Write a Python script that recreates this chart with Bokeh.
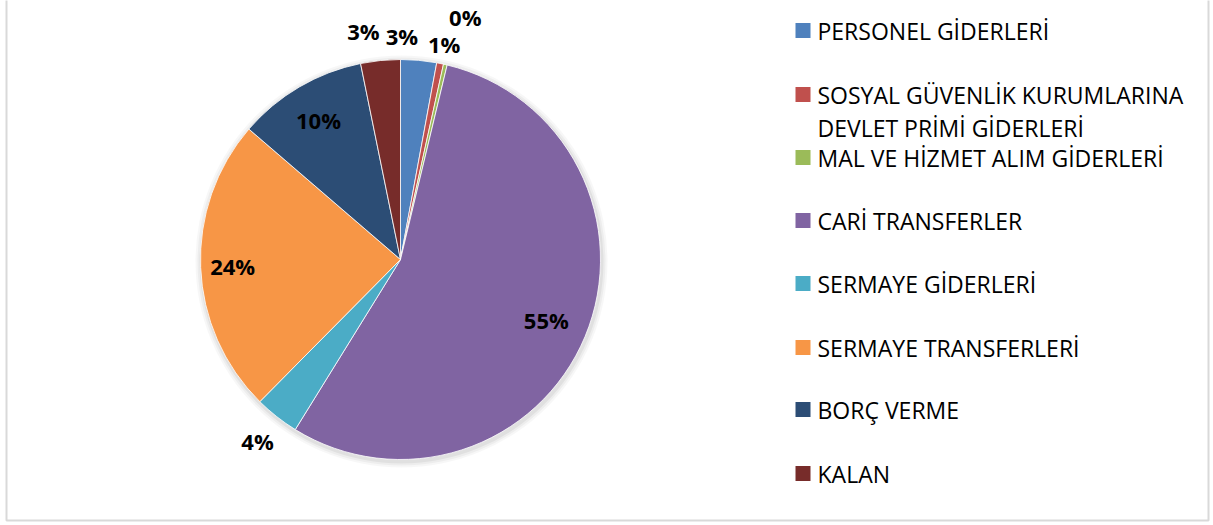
import math
from bokeh.plotting import figure
from bokeh.models import ColumnDataSource, Range1d
from bokeh.embed import file_html
from bokeh.resources import INLINE
from bokeh.core.properties import value

# ---- data ----
categories = ["PERSONEL GİDERLERİ",
              "SOSYAL GÜVENLİK KURUMLARINA DEVLET PRİMİ GİDERLERİ",
              "MAL VE HİZMET ALIM GİDERLERİ",
              "CARİ TRANSFERLER",
              "SERMAYE GİDERLERİ",
              "SERMAYE TRANSFERLERİ",
              "BORÇ VERME",
              "KALAN"]
shares = [2.9, 0.55, 0.3, 55.1, 3.6, 23.9, 10.5, 3.2]
legend_lines = [["PERSONEL GİDERLERİ"],
                ["SOSYAL GÜVENLİK KURUMLARINA", "DEVLET PRİMİ GİDERLERİ"],
                ["MAL VE HİZMET ALIM GİDERLERİ"],
                ["CARİ TRANSFERLER"],
                ["SERMAYE GİDERLERİ"],
                ["SERMAYE TRANSFERLERİ"],
                ["BORÇ VERME"],
                ["KALAN"]]

# ---- style ----
colors = ["#4F81BD", "#C0504D", "#9BBB59", "#8064A2", "#4BACC6", "#F79646", "#2C4D75", "#772C2A"]
label_radius = [1.12, 1.10, 1.245, 0.79, 1.155, 0.84, 0.81, 1.15]
label_dx = [-19, 0, 9, 0, 0, 0, 0, -14]

W, H = 1213, 525
cx, cy, R = 400, H - 259, 200

total = sum(shares)
starts, ends, mids = [], [], []
acc = 0.0
for v in shares:
    f0 = acc / total
    acc += v
    f1 = acc / total
    starts.append(math.pi / 2 - f0 * 2 * math.pi)
    ends.append(math.pi / 2 - f1 * 2 * math.pi)
    mids.append((f0 + f1) / 2 * 2 * math.pi)

p = figure(width=W, height=H, x_range=Range1d(0, W), y_range=Range1d(0, H),
           output_backend="svg", toolbar_location=None,
           x_axis_location=None, y_axis_location=None, min_border=0)
p.grid.visible = False
p.outline_line_color = None
p.background_fill_color = "white"
p.border_fill_color = "white"

# outer chart border
p.quad(left=[6], right=[1208], bottom=[5], top=[H + 20], fill_color=None,
       line_color="#d9d9d9", line_width=2)

# soft shadow
for i, a in enumerate([0.05, 0.04, 0.03]):
    p.circle(x=[cx + 1], y=[cy - 2], radius=R + 2 + 2 * i, fill_color="black",
             fill_alpha=a, line_color=None)

src = ColumnDataSource(dict(start=ends, end=starts, color=colors))
p.wedge(x=cx, y=cy, radius=R, start_angle="start", end_angle="end",
        fill_color="color", line_color="white", line_width=0.8, source=src)

# data labels
lx, ly, lt = [], [], []
for i, v in enumerate(shares):
    th = mids[i]
    rr = label_radius[i] * R
    lx.append(cx + rr * math.sin(th) + label_dx[i])
    ly.append(cy + rr * math.cos(th))
    lt.append(f"{round(v / total * 100)}%")
p.text(x=lx, y=ly, text=lt, text_font=value("Open Sans"), text_font_size="22px",
       text_font_style="bold", text_align="center", text_baseline="middle",
       text_color="black")

# legend
sq = 15
row_y = [30, 94, 157, 220, 283, 347, 409, 473]
line_gap = 33
tx, ty, tt = [], [], []
for i, lines in enumerate(legend_lines):
    yc = H - row_y[i]
    p.quad(left=[795], right=[795 + sq], bottom=[yc - sq / 2], top=[yc + sq / 2],
           fill_color=colors[i], line_color=None)
    for j, ln in enumerate(lines):
        tx.append(817)
        ty.append(yc - j * line_gap)
        tt.append(ln)
p.text(x=tx, y=ty, text=tt, text_font=value("Open Sans"), text_font_size="23px",
       text_align="left", text_baseline="middle", text_color="black")

open("out.html", "w").write(file_html(p, INLINE))
